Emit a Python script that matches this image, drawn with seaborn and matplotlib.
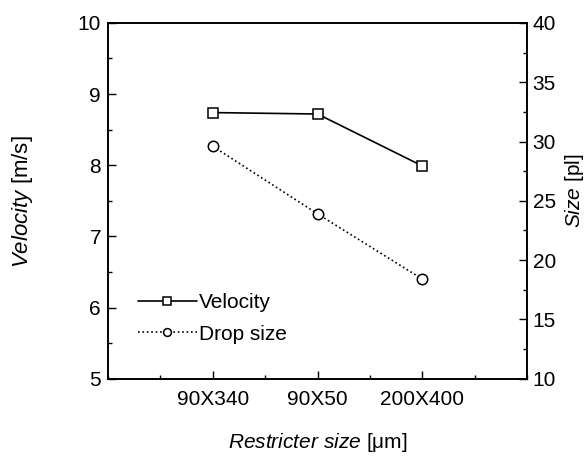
import matplotlib
matplotlib.use('Agg')
import matplotlib.pyplot as plt
import seaborn as sns
from matplotlib.ticker import MultipleLocator

# data
restricter = ['90X340', '90X50', '200X400']
velocity = [8.74, 8.72, 7.99]      # m/s
drop_size = [29.6, 23.9, 18.4]     # pl

sns.set_style('ticks', {'text.color': 'black', 'axes.labelcolor': 'black',
                        'xtick.color': 'black', 'ytick.color': 'black',
                        'axes.edgecolor': 'black'})
plt.rcParams['font.family'] = ['Liberation Sans', 'DejaVu Sans']
plt.rcParams['mathtext.fontset'] = 'custom'
plt.rcParams['mathtext.rm'] = 'Liberation Sans'
plt.rcParams['mathtext.it'] = 'Liberation Sans:italic'

fig = plt.figure(figsize=(5.87, 4.58), dpi=100)
ax = fig.add_axes([0.184, 0.173, 0.714, 0.777])
ax2 = ax.twinx()

sns.lineplot(x=restricter, y=velocity, ax=ax, color='black', linewidth=1.2,
             marker='s', markersize=7, markerfacecolor='white',
             markeredgecolor='black', markeredgewidth=1.1, label='Velocity',
             legend=False)
sns.lineplot(x=restricter, y=drop_size, ax=ax2, color='black', linewidth=1.2,
             linestyle=':', marker='o', markersize=7.5, markerfacecolor='white',
             markeredgecolor='black', markeredgewidth=1.1, label='Drop size',
             legend=False)

ax.set_xlim(-1, 3)
ax.set_ylim(5, 10)
ax2.set_ylim(10, 40)
ax.xaxis.set_minor_locator(MultipleLocator(0.5))
ax.yaxis.set_major_locator(MultipleLocator(1))
ax.yaxis.set_minor_locator(MultipleLocator(0.5))
ax2.yaxis.set_major_locator(MultipleLocator(5))
ax2.yaxis.set_minor_locator(MultipleLocator(2.5))

ax.tick_params(axis='y', which='major', pad=5)
ax.tick_params(axis='x', which='major', pad=8)
ax.tick_params(axis='both', which='major', direction='in', length=6, width=1,
               labelsize=15, right=False, top=False)
ax.tick_params(axis='both', which='minor', direction='in', length=3, width=1,
               right=False, top=False)
ax2.tick_params(axis='y', which='major', direction='in', length=6, width=1,
                labelsize=15, pad=4)
ax2.tick_params(axis='y', which='minor', direction='in', length=3, width=1)

for a in (ax, ax2):
    for s in a.spines.values():
        s.set_visible(True)
        s.set_linewidth(1.2)
        s.set_color('black')

ax.set_xlabel(r'$\mathit{Restricter\ size}$ [μm]', fontsize=15, labelpad=16)
ax.set_ylabel(r'$\mathit{Velocity}$ [m/s]', fontsize=16)
ax.yaxis.set_label_coords(-0.174, 0.497)
ax2.set_ylabel(r'$\mathit{Size}$ [pl]', fontsize=15, rotation=90)
ax2.yaxis.set_label_coords(1.086, 0.528)

h1, l1 = ax.get_legend_handles_labels()
h2, l2 = ax2.get_legend_handles_labels()
ax.legend(h1 + h2, l1 + l2, loc='lower left', bbox_to_anchor=(0.072, 0.099),
          borderaxespad=0, borderpad=0, frameon=False, fontsize=15,
          handlelength=2.8, handletextpad=0.1, labelspacing=0.6,
          markerscale=0.75)

fig.savefig('out.png', dpi=100)
